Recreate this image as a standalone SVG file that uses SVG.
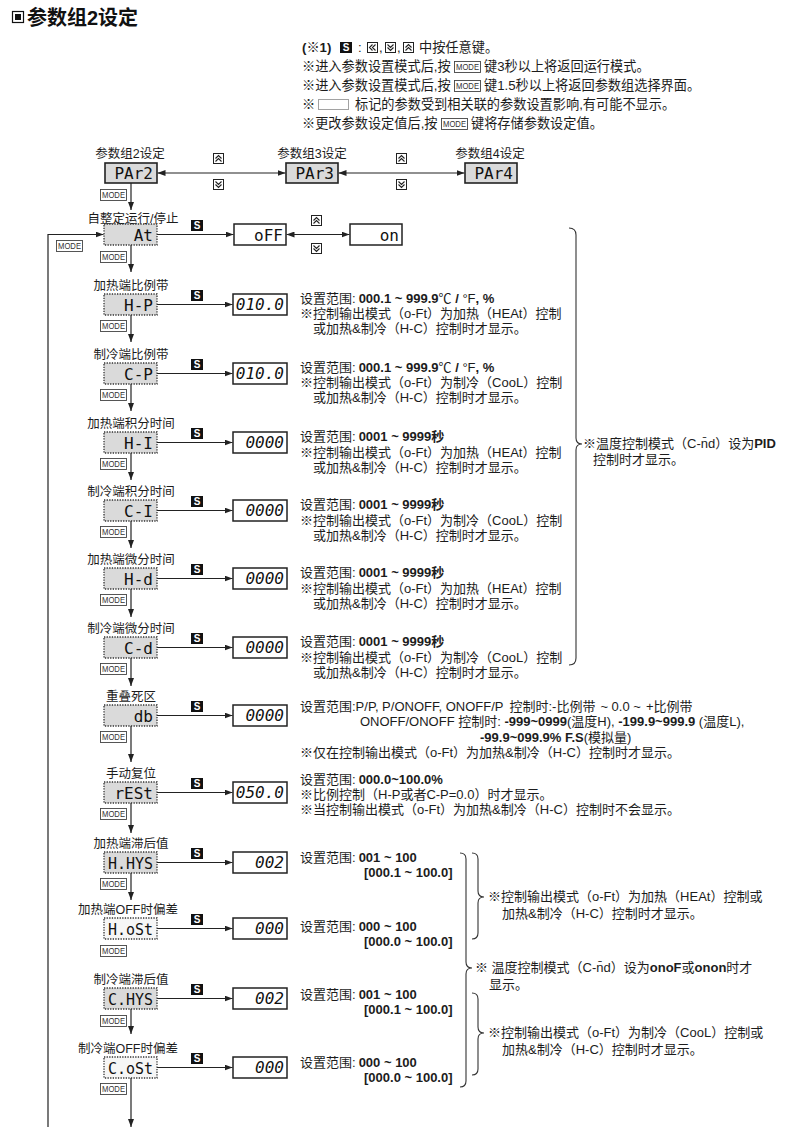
<svg xmlns="http://www.w3.org/2000/svg" width="800" height="1133" viewBox="0 0 800 1133">
<style>
text{font-family:"Liberation Sans","Noto Sans CJK SC",sans-serif;fill:#1c1c1c}
.ti{font-size:20px;font-weight:bold;fill:#111}
.nt{font-size:13.2px}
.ds{font-size:13px}
.lb{font-size:12.5px;text-anchor:middle}
.b{font-weight:bold}
.cd{font-family:"DejaVu Sans Mono",monospace;font-size:16px;text-anchor:end;fill:#111}
.vl{font-family:"DejaVu Sans Mono",monospace;font-size:16px;font-style:italic;text-anchor:end;fill:#111}
.mt{font-size:9.5px;fill:#333;text-anchor:middle}
.st{font-size:10px;font-weight:bold;fill:#fff;text-anchor:middle}
.pb{fill:#dadada;stroke:#333;stroke-width:1.3;stroke-dasharray:1.3 1.3}
.pw{fill:#f6f6f6;stroke:#333;stroke-width:1.3;stroke-dasharray:1.3 1.3}
.sb{fill:#dadada;stroke:#222;stroke-width:1.6}
.vb{fill:#fff;stroke:#222;stroke-width:1.5}
.ln{fill:none;stroke:#222;stroke-width:1.2}
.ar{marker-end:url(#ah)}
.ar2{marker-start:url(#ah);marker-end:url(#ah)}
.br{fill:none;stroke:#333;stroke-width:1.1}
</style>
<defs>
<marker id="ah" viewBox="0 0 8 6" refX="8" refY="3" markerUnits="userSpaceOnUse" markerWidth="8" markerHeight="6" orient="auto-start-reverse"><path d="M0,0 L8,3 L0,6 z" fill="#222"/></marker>
<g id="kMode"><rect x="0.5" y="0.5" width="26" height="11" fill="#fff" stroke="#444" stroke-width="0.9"/><text class="mt" x="13.5" y="9.4" textLength="23" lengthAdjust="spacingAndGlyphs">MODE</text></g>
<g id="kS"><rect width="12" height="11" fill="#111"/><text class="st" x="6" y="9.4">S</text></g>
<g id="kUp"><rect x="0.5" y="0.5" width="10" height="10" fill="#fff" stroke="#222" stroke-width="1"/><path d="M2.5,5.5 L5.5,2.5 L8.5,5.5 M2.5,8.5 L5.5,5.5 L8.5,8.5" fill="none" stroke="#222" stroke-width="1.1"/></g>
<g id="kDn"><rect x="0.5" y="0.5" width="10" height="10" fill="#fff" stroke="#222" stroke-width="1"/><path d="M2.5,2.5 L5.5,5.5 L8.5,2.5 M2.5,5.5 L5.5,8.5 L8.5,5.5" fill="none" stroke="#222" stroke-width="1.1"/></g>
<g id="kLf"><rect x="0.5" y="0.5" width="10" height="10" fill="#fff" stroke="#222" stroke-width="1"/><path d="M5.5,2.5 L2.5,5.5 L5.5,8.5 M8.5,2.5 L5.5,5.5 L8.5,8.5" fill="none" stroke="#222" stroke-width="1.1"/></g>
</defs>

<g id="title">
<rect x="12.5" y="11.5" width="11" height="11" fill="#fff" stroke="#111" stroke-width="1.2"/>
<rect x="15" y="14" width="6" height="6" fill="#111"/>
<text class="ti" x="27" y="25">参数组2设定</text>
</g>

<g id="notes">
<text class="nt b" x="302" y="52">(※1)</text>
<use href="#kS" x="340" y="42"/>
<text class="nt" x="358" y="52">:</text>
<use href="#kLf" x="367" y="42"/>
<text class="nt" x="379" y="52">,</text>
<use href="#kDn" x="385" y="42"/>
<text class="nt" x="397" y="52">,</text>
<use href="#kUp" x="403" y="42"/>
<text class="nt" x="419" y="52">中按任意键。</text>
<text class="nt" x="302" y="71">※进入参数设置模式后,按</text>
<use href="#kMode" x="454" y="61"/>
<text class="nt" x="484" y="71">键3秒以上将返回运行模式。</text>
<text class="nt" x="302" y="90">※进入参数设置模式后,按</text>
<use href="#kMode" x="454" y="80"/>
<text class="nt" x="484" y="90">键1.5秒以上将返回参数组选择界面。</text>
<text class="nt" x="302" y="109">※</text>
<rect x="318.5" y="99.5" width="30" height="10" fill="none" stroke="#444" stroke-width="1" stroke-dasharray="1 1"/>
<text class="nt" x="355" y="109">标记的参数受到相关联的参数设置影响,有可能不显示。</text>
<text class="nt" x="302" y="128">※更改参数设定值后,按</text>
<use href="#kMode" x="441" y="118"/>
<text class="nt" x="471" y="128">键将存储参数设定值。</text>
</g>

<g id="connectors">
<path class="ln ar" d="M131,183 V210"/>
<path class="ln ar2" d="M157.5,173 H285.5"/>
<path class="ln ar2" d="M338.5,173 H464.5"/>
<use href="#kUp" x="213" y="153"/><use href="#kDn" x="213" y="179"/>
<use href="#kUp" x="396" y="153"/><use href="#kDn" x="396" y="179"/>
<use href="#kMode" x="100" y="189"/>
<path class="ln ar" d="M48,1127 V234.5 H103.5"/>
<use href="#kMode" x="56" y="240"/>
<path class="ln ar" d="M157,234.5 H233.5"/>
<use href="#kS" x="191" y="220"/>
<path class="ln ar2" d="M286.5,234.5 H349.5"/>
<use href="#kUp" x="311" y="215"/><use href="#kDn" x="311" y="243"/>
<path class="ln ar" d="M131,245 V272"/><use href="#kMode" x="100" y="251"/>
<path class="ln ar" d="M157,304.5 H232.5"/><use href="#kS" x="191" y="290"/>
<path class="ln ar" d="M131,315 V342"/><use href="#kMode" x="100" y="320"/>
<path class="ln ar" d="M157,373.5 H232.5"/><use href="#kS" x="191" y="359"/>
<path class="ln ar" d="M131,384 V411"/><use href="#kMode" x="100" y="389"/>
<path class="ln ar" d="M157,442.5 H232.5"/><use href="#kS" x="191" y="428"/>
<path class="ln ar" d="M131,453 V480"/><use href="#kMode" x="100" y="458"/>
<path class="ln ar" d="M157,510.5 H232.5"/><use href="#kS" x="191" y="496"/>
<path class="ln ar" d="M131,521 V548"/><use href="#kMode" x="100" y="526"/>
<path class="ln ar" d="M157,578.5 H232.5"/><use href="#kS" x="191" y="564"/>
<path class="ln ar" d="M131,589 V617"/><use href="#kMode" x="100" y="594"/>
<path class="ln ar" d="M157,647.5 H232.5"/><use href="#kS" x="191" y="633"/>
<path class="ln ar" d="M131,658 V686"/><use href="#kMode" x="100" y="663"/>
<path class="ln ar" d="M157,715.5 H232.5"/><use href="#kS" x="191" y="701"/>
<path class="ln ar" d="M131,726 V762"/><use href="#kMode" x="100" y="731"/>
<path class="ln ar" d="M157,792.5 H232.5"/><use href="#kS" x="191" y="778"/>
<path class="ln ar" d="M131,803 V833"/><use href="#kMode" x="100" y="808"/>
<path class="ln ar" d="M157,862.5 H232.5"/><use href="#kS" x="191" y="848"/>
<path class="ln ar" d="M131,873 V900"/><use href="#kMode" x="100" y="878"/>
<path class="ln ar" d="M157,928.5 H232.5"/><use href="#kS" x="191" y="914"/>
<use href="#kMode" x="100" y="945"/>
<path class="ln ar" d="M157,998.5 H232.5"/><use href="#kS" x="191" y="984"/>
<path class="ln ar" d="M131,1009 V1034"/><use href="#kMode" x="100" y="1015"/>
<path class="ln ar" d="M157,1067.5 H232.5"/><use href="#kS" x="191" y="1053"/>
<path class="ln ar" d="M131,1078 V1127"/><use href="#kMode" x="100" y="1083"/>
</g>

<g id="node-PAr2"><text class="lb" x="130" y="158">参数组2设定</text><rect class="sb" x="105" y="163" width="52" height="20"/><text class="cd" x="153" y="179">PAr2</text></g>
<g id="node-PAr3"><text class="lb" x="312" y="158">参数组3设定</text><rect class="sb" x="286" y="163" width="52" height="20"/><text class="cd" x="334" y="179">PAr3</text></g>
<g id="node-PAr4"><text class="lb" x="490" y="158">参数组4设定</text><rect class="sb" x="465" y="163" width="52" height="20"/><text class="cd" x="513" y="179">PAr4</text></g>

<g id="node-At"><text class="lb" x="133" y="223">自整定运行/停止</text><rect class="pb" x="104" y="224" width="53" height="21"/><text class="cd" x="153" y="240.5">At</text></g>
<g id="node-oFF"><rect class="vb" x="234" y="224" width="52" height="21"/><text class="cd" x="283" y="240.5">oFF</text></g>
<g id="node-on"><rect class="vb" x="350" y="224" width="52" height="21"/><text class="cd" x="399" y="240.5">on</text></g>

<g id="node-HP"><text class="lb" x="131" y="289.5">加热端比例带</text><rect class="pb" x="104" y="294" width="53" height="21"/><text class="cd" x="153" y="310.5">H-P</text></g>
<g id="val-HP"><rect class="vb" x="233" y="294" width="54" height="21"/><text class="vl" x="284" y="310">010.0</text></g>
<g id="node-CP"><text class="lb" x="131" y="358.5">制冷端比例带</text><rect class="pb" x="104" y="363" width="53" height="21"/><text class="cd" x="153" y="379.5">C-P</text></g>
<g id="val-CP"><rect class="vb" x="233" y="363" width="54" height="21"/><text class="vl" x="284" y="379">010.0</text></g>
<g id="node-HI"><text class="lb" x="131" y="427.5">加热端积分时间</text><rect class="pb" x="104" y="432" width="53" height="21"/><text class="cd" x="153" y="448.5">H-I</text></g>
<g id="val-HI"><rect class="vb" x="233" y="432" width="54" height="21"/><text class="vl" x="284" y="448">0000</text></g>
<g id="node-CI"><text class="lb" x="131" y="495.5">制冷端积分时间</text><rect class="pb" x="104" y="500" width="53" height="21"/><text class="cd" x="153" y="516.5">C-I</text></g>
<g id="val-CI"><rect class="vb" x="233" y="500" width="54" height="21"/><text class="vl" x="284" y="516">0000</text></g>
<g id="node-Hd"><text class="lb" x="131" y="563.5">加热端微分时间</text><rect class="pb" x="104" y="568" width="53" height="21"/><text class="cd" x="153" y="584.5">H-d</text></g>
<g id="val-Hd"><rect class="vb" x="233" y="568" width="54" height="21"/><text class="vl" x="284" y="584">0000</text></g>
<g id="node-Cd"><text class="lb" x="131" y="632.5">制冷端微分时间</text><rect class="pb" x="104" y="637" width="53" height="21"/><text class="cd" x="153" y="653.5">C-d</text></g>
<g id="val-Cd"><rect class="vb" x="233" y="637" width="54" height="21"/><text class="vl" x="284" y="653">0000</text></g>
<g id="node-db"><text class="lb" x="131" y="700.5">重叠死区</text><rect class="pb" x="104" y="705" width="53" height="21"/><text class="cd" x="153" y="721.5">db</text></g>
<g id="val-db"><rect class="vb" x="233" y="705" width="54" height="21"/><text class="vl" x="284" y="721">0000</text></g>
<g id="node-rESt"><text class="lb" x="131" y="777.5">手动复位</text><rect class="pb" x="104" y="782" width="53" height="21"/><text class="cd" x="153" y="798.5">rESt</text></g>
<g id="val-rESt"><rect class="vb" x="233" y="782" width="54" height="21"/><text class="vl" x="284" y="798">050.0</text></g>
<g id="node-HHYS"><text class="lb" x="131" y="847.5">加热端滞后值</text><rect class="pb" x="104" y="852" width="53" height="21"/><text class="cd" x="153" y="868.5" textLength="45" lengthAdjust="spacingAndGlyphs">H.HYS</text></g>
<g id="val-HHYS"><rect class="vb" x="233" y="852" width="54" height="21"/><text class="vl" x="284" y="868">002</text></g>
<g id="node-HoSt"><text class="lb" x="128" y="913.5">加热端OFF时偏差</text><rect class="pw" x="104" y="918" width="53" height="21"/><text class="cd" x="153" y="934.5" textLength="45" lengthAdjust="spacingAndGlyphs">H.oSt</text></g>
<g id="val-HoSt"><rect class="vb" x="233" y="918" width="54" height="21"/><text class="vl" x="284" y="934">000</text></g>
<g id="node-CHYS"><text class="lb" x="131" y="983.5">制冷端滞后值</text><rect class="pb" x="104" y="988" width="53" height="21"/><text class="cd" x="153" y="1004.5" textLength="45" lengthAdjust="spacingAndGlyphs">C.HYS</text></g>
<g id="val-CHYS"><rect class="vb" x="233" y="988" width="54" height="21"/><text class="vl" x="284" y="1004">002</text></g>
<g id="node-CoSt"><text class="lb" x="128" y="1052.5">制冷端OFF时偏差</text><rect class="pw" x="104" y="1057" width="53" height="21"/><text class="cd" x="153" y="1073.5" textLength="45" lengthAdjust="spacingAndGlyphs">C.oSt</text></g>
<g id="val-CoSt"><rect class="vb" x="233" y="1057" width="54" height="21"/><text class="vl" x="284" y="1073">000</text></g>

<g id="descriptions">
<text class="ds"><tspan x="300" y="303">设置范围:<tspan class="b" dx="3">000.1 ~ 999.9</tspan>℃ <tspan class="b">/</tspan> °F<tspan class="b">, %</tspan></tspan><tspan x="300" y="318">※控制输出模式（o-Ft）为加热（HEAt）控制</tspan><tspan x="313" y="333">或加热&amp;制冷（H-C）控制时才显示。</tspan></text>
<text class="ds"><tspan x="300" y="372">设置范围:<tspan class="b" dx="3">000.1 ~ 999.9</tspan>℃ <tspan class="b">/</tspan> °F<tspan class="b">, %</tspan></tspan><tspan x="300" y="387">※控制输出模式（o-Ft）为制冷（CooL）控制</tspan><tspan x="313" y="402">或加热&amp;制冷（H-C）控制时才显示。</tspan></text>
<text class="ds"><tspan x="300" y="441">设置范围:<tspan class="b" dx="3">0001 ~ 9999秒</tspan></tspan><tspan x="300" y="456.5">※控制输出模式（o-Ft）为加热（HEAt）控制</tspan><tspan x="313" y="472">或加热&amp;制冷（H-C）控制时才显示。</tspan></text>
<text class="ds"><tspan x="300" y="509">设置范围:<tspan class="b" dx="3">0001 ~ 9999秒</tspan></tspan><tspan x="300" y="524.5">※控制输出模式（o-Ft）为制冷（CooL）控制</tspan><tspan x="313" y="540">或加热&amp;制冷（H-C）控制时才显示。</tspan></text>
<text class="ds"><tspan x="300" y="577">设置范围:<tspan class="b" dx="3">0001 ~ 9999秒</tspan></tspan><tspan x="300" y="592.5">※控制输出模式（o-Ft）为加热（HEAt）控制</tspan><tspan x="313" y="608">或加热&amp;制冷（H-C）控制时才显示。</tspan></text>
<text class="ds"><tspan x="300" y="646">设置范围:<tspan class="b" dx="3">0001 ~ 9999秒</tspan></tspan><tspan x="300" y="661.5">※控制输出模式（o-Ft）为制冷（CooL）控制</tspan><tspan x="313" y="677">或加热&amp;制冷（H-C）控制时才显示。</tspan></text>
<text class="ds"><tspan x="300" y="710.5">设置范围:P/P, P/ONOFF, ONOFF/P<tspan dx="6">控制时:-比例带</tspan><tspan dx="5">~ 0.0 ~</tspan><tspan dx="5">+比例带</tspan></tspan><tspan x="360" y="726">ONOFF/ONOFF 控制时: <tspan class="b">-999~0999</tspan>(温度H), <tspan class="b">-199.9~999.9</tspan> (温度L),</tspan><tspan x="480" y="741.5"><tspan class="b">-99.9~099.9% F.S</tspan>(模拟量)</tspan><tspan x="300" y="757">※仅在控制输出模式（o-Ft）为加热&amp;制冷（H-C）控制时才显示。</tspan></text>
<text class="ds"><tspan x="300" y="784">设置范围:<tspan class="b" dx="3">000.0~100.0%</tspan></tspan><tspan x="300" y="799">※比例控制（H-P或者C-P=0.0）时才显示。</tspan><tspan x="300" y="814">※当控制输出模式（o-Ft）为加热&amp;制冷（H-C）控制时不会显示。</tspan></text>
<text class="ds"><tspan x="300" y="862">设置范围:<tspan class="b" dx="3">001 ~ 100</tspan></tspan><tspan class="b" x="364" y="877">[000.1 ~ 100.0]</tspan></text>
<text class="ds"><tspan x="300" y="931">设置范围:<tspan class="b" dx="3">000 ~ 100</tspan></tspan><tspan class="b" x="364" y="946">[000.0 ~ 100.0]</tspan></text>
<text class="ds"><tspan x="300" y="999">设置范围:<tspan class="b" dx="3">001 ~ 100</tspan></tspan><tspan class="b" x="364" y="1014">[000.1 ~ 100.0]</tspan></text>
<text class="ds"><tspan x="300" y="1067">设置范围:<tspan class="b" dx="3">000 ~ 100</tspan></tspan><tspan class="b" x="364" y="1082">[000.0 ~ 100.0]</tspan></text>
</g>

<g id="brackets">
<path class="br" d="M569,228 Q576,228 576,235 V438 Q576,444 582,444 Q576,444 576,450 V658 Q576,665 569,665"/>
<text class="ds"><tspan x="583" y="448">※温度控制模式（C-n̄d）设为<tspan class="b">PID</tspan></tspan><tspan x="593" y="464">控制时才显示。</tspan></text>
<path class="br" d="M460,853 Q466,853 466,859 V962 Q466,968 472,968 Q466,968 466,974 V1081 Q466,1087 460,1087"/>
<path class="br" d="M472,853 Q478,853 478,859 V891 Q478,897 484,897 Q478,897 478,903 V933 Q478,939 472,939"/>
<path class="br" d="M472,993 Q478,993 478,999 V1027 Q478,1033 484,1033 Q478,1033 478,1039 V1069 Q478,1075 472,1075"/>
<text class="ds"><tspan x="488" y="901">※控制输出模式（o-Ft）为加热（HEAt）控制或</tspan><tspan x="502" y="918">加热&amp;制冷（H-C）控制时才显示。</tspan></text>
<text class="ds"><tspan x="475" y="972">※ 温度控制模式（C-n̄d）设为<tspan class="b">onoF</tspan>或<tspan class="b">onon</tspan>时才</tspan><tspan x="489" y="989">显示。</tspan></text>
<text class="ds"><tspan x="488" y="1037">※控制输出模式（o-Ft）为制冷（CooL）控制或</tspan><tspan x="502" y="1054">加热&amp;制冷（H-C）控制时才显示。</tspan></text>
</g>
</svg>
